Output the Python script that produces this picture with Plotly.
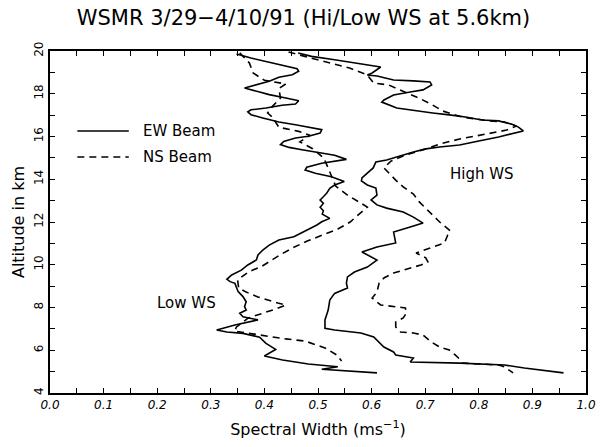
import plotly.graph_objects as go

# ---- data (spectral width in m/s, altitude in km) ----
low_ew_width = [0.348,0.375,0.415,0.440,0.461,0.464,0.452,0.427,0.409,0.363,0.409,0.440,0.464,0.458,0.433,0.403,0.375,0.369,0.375,0.397,0.427,0.458,0.488,0.507,0.504,0.482,0.458,0.436,0.430,0.446,0.470,0.501,0.531,0.553,0.507,0.479,0.476,0.495,0.525,0.549,0.531,0.522,0.516,0.510,0.504,0.510,0.504,0.510,0.508,0.522,0.507,0.498,0.479,0.455,0.427,0.409,0.397,0.388,0.385,0.369,0.357,0.339,0.330,0.336,0.345,0.348,0.351,0.360,0.366,0.363,0.366,0.354,0.360,0.388,0.345,0.311,0.330,0.360,0.391,0.403,0.421,0.400,0.434,0.482,0.537,0.507,0.610]
low_ew_alt = [19.86,19.67,19.44,19.28,19.17,19.05,18.89,18.77,18.58,18.27,17.96,17.80,17.67,17.52,17.46,17.33,17.25,17.15,17.02,16.87,16.68,16.55,16.43,16.32,16.16,16.01,15.93,15.77,15.62,15.49,15.38,15.23,15.12,14.93,14.75,14.56,14.43,14.28,14.12,13.89,13.73,13.58,13.34,13.18,13.03,12.87,12.69,12.53,12.37,12.17,12.01,11.86,11.63,11.31,11.16,10.92,10.69,10.46,10.22,9.99,9.75,9.52,9.32,9.21,9.13,8.94,8.74,8.51,8.27,8.04,7.88,7.73,7.57,7.42,7.18,6.95,6.85,6.79,6.61,6.32,6.04,5.73,5.54,5.36,5.23,5.11,4.94]

low_ns_width = [0.354,0.372,0.379,0.400,0.440,0.427,0.430,0.415,0.406,0.415,0.427,0.464,0.485,0.466,0.490,0.511,0.522,0.533,0.555,0.581,0.592,0.579,0.560,0.537,0.509,0.480,0.452,0.429,0.396,0.370,0.350,0.352,0.366,0.388,0.425,0.440,0.421,0.396,0.370,0.348,0.344,0.366,0.403,0.440,0.476,0.513,0.535,0.544]
low_ns_alt = [19.91,19.44,18.97,18.63,18.46,18.24,17.80,17.41,17.10,16.90,16.43,16.24,16.06,15.75,15.43,14.99,14.34,13.68,13.26,12.89,12.70,12.42,12.00,11.67,11.39,11.11,10.78,10.46,9.94,9.66,9.29,8.91,8.72,8.49,8.21,8.12,7.93,7.74,7.51,7.09,6.90,6.81,6.67,6.53,6.43,6.11,5.78,5.50]

high_ew_width = [0.463,0.488,0.531,0.586,0.617,0.601,0.592,0.610,0.641,0.678,0.709,0.712,0.696,0.672,0.641,0.623,0.619,0.647,0.683,0.714,0.745,0.775,0.806,0.837,0.861,0.874,0.883,0.861,0.837,0.800,0.764,0.727,0.701,0.678,0.654,0.628,0.608,0.603,0.592,0.582,0.581,0.592,0.608,0.610,0.599,0.610,0.628,0.659,0.678,0.696,0.672,0.641,0.645,0.610,0.582,0.610,0.592,0.568,0.555,0.553,0.555,0.531,0.522,0.519,0.513,0.513,0.531,0.580,0.604,0.623,0.641,0.645,0.678,0.672,0.764,0.848,0.885,0.958]
high_ew_alt = [19.91,19.75,19.59,19.36,19.25,18.97,18.88,18.83,18.64,18.60,18.55,18.41,18.18,18.08,17.94,17.71,17.61,17.33,17.19,17.10,17.01,16.91,16.77,16.73,16.58,16.44,16.26,16.12,15.98,15.79,15.60,15.51,15.42,15.27,15.09,14.90,14.81,14.53,14.29,14.06,13.92,13.73,13.59,13.26,13.03,12.80,12.65,12.47,12.23,11.95,11.77,11.53,11.02,10.83,10.60,10.22,9.89,9.66,9.43,9.14,8.91,8.66,8.35,7.88,7.42,7.03,6.95,6.81,6.62,6.15,5.92,5.78,5.64,5.45,5.40,5.31,5.17,4.94]

high_ns_width = [0.445,0.467,0.513,0.559,0.592,0.604,0.632,0.659,0.692,0.714,0.733,0.769,0.819,0.848,0.870,0.852,0.811,0.764,0.727,0.701,0.663,0.636,0.623,0.632,0.645,0.659,0.678,0.689,0.714,0.727,0.747,0.742,0.736,0.714,0.696,0.683,0.701,0.705,0.692,0.678,0.659,0.641,0.623,0.614,0.610,0.601,0.617,0.647,0.663,0.665,0.659,0.645,0.645,0.654,0.678,0.696,0.711,0.727,0.745,0.756,0.766,0.769,0.837,0.848,0.864]
high_ns_alt = [19.95,19.81,19.49,19.20,18.88,18.50,18.41,18.13,17.75,17.47,17.19,16.91,16.73,16.68,16.49,16.30,16.12,15.88,15.65,15.42,15.13,14.85,14.53,14.29,13.96,13.64,13.31,12.94,12.33,12.00,11.58,11.39,11.02,10.83,10.69,10.55,10.32,10.13,9.99,9.89,9.75,9.61,9.38,9.14,8.72,8.44,8.12,8.02,7.98,7.74,7.51,7.32,7.09,6.85,6.81,6.71,6.39,6.15,6.01,5.78,5.54,5.40,5.31,5.22,4.94]

x_ticks = [0.0, 0.1, 0.2, 0.3, 0.4, 0.5, 0.6, 0.7, 0.8, 0.9, 1.0]
y_ticks = [4, 6, 8, 10, 12, 14, 16, 18, 20]

FONT = "DejaVu Sans"
solid = dict(color="black", width=1.6)
dashed = dict(color="black", width=1.6, dash="7px,5px")

fig = go.Figure()
fig.add_trace(go.Scatter(x=low_ew_width, y=low_ew_alt, mode="lines", line=solid, showlegend=False))
fig.add_trace(go.Scatter(x=low_ns_width, y=low_ns_alt, mode="lines", line=dashed, showlegend=False))
fig.add_trace(go.Scatter(x=high_ew_width, y=high_ew_alt, mode="lines", line=solid, showlegend=False))
fig.add_trace(go.Scatter(x=high_ns_width, y=high_ns_alt, mode="lines", line=dashed, showlegend=False))

W, H = 607, 447
fig.update_layout(
    width=W, height=H,
    margin=dict(l=50, r=11, t=51, b=54),
    paper_bgcolor="white", plot_bgcolor="white",
    font=dict(family=FONT, color="black"),
    title=dict(text="WSMR 3/29\u22124/10/91 (Hi/Low WS at 5.6km)",
               x=0.5, xanchor="center", xref="container",
               y=1 - 10 / H, yanchor="top", yref="container",
               font=dict(size=21, family=FONT, color="black")),
)

fig.update_xaxes(
    range=[0, 1], tickvals=x_ticks, ticktext=[f"{v:.1f}" for v in x_ticks],
    ticks="inside", ticklen=5, tickwidth=1.2, tickcolor="black",
    minor=dict(dtick=0.05, tick0=0, ticks="inside", ticklen=5, tickwidth=1.2, tickcolor="black"),
    showline=True, linecolor="black", linewidth=2, mirror="ticks",
    showgrid=False, zeroline=False,
    tickfont=dict(size=12, family=FONT, style="italic"),
    title=dict(text="Spectral Width (ms<sup>\u22121</sup>)", font=dict(size=16, family=FONT), standoff=12),
)
fig.update_yaxes(
    range=[4, 20], tickvals=y_ticks, ticktext=[str(v) for v in y_ticks],
    ticks="inside", ticklen=5, tickwidth=1.2, tickcolor="black",
    minor=dict(dtick=1, tick0=4, ticks="inside", ticklen=5, tickwidth=1.2, tickcolor="black"),
    showline=True, linecolor="black", linewidth=2, mirror="ticks",
    showgrid=False, zeroline=False, tickangle=-90,
    tickfont=dict(size=12, family=FONT),
    title=dict(text="Altitude in km", font=dict(size=16, family=FONT), standoff=4),
)

# custom legend (paper coordinates)
leg_x0, leg_x1, leg_tx = 0.051, 0.147, 0.170
leg_y = [0.766, 0.690]
fig.add_shape(type="line", xref="paper", yref="paper", x0=leg_x0, x1=leg_x1, y0=leg_y[0], y1=leg_y[0], line=solid)
fig.add_shape(type="line", xref="paper", yref="paper", x0=leg_x0, x1=leg_x1, y0=leg_y[1], y1=leg_y[1], line=dashed)
fig.add_annotation(text="EW Beam", xref="paper", yref="paper", x=leg_tx, y=leg_y[0],
                   xanchor="left", yanchor="middle", showarrow=False, font=dict(size=15, family=FONT))
fig.add_annotation(text="NS Beam", xref="paper", yref="paper", x=leg_tx, y=leg_y[1],
                   xanchor="left", yanchor="middle", showarrow=False, font=dict(size=15, family=FONT))
fig.add_annotation(text="Low WS", xref="paper", yref="paper", x=0.255, y=0.263,
                   xanchor="center", yanchor="middle", showarrow=False, font=dict(size=15, family=FONT))
fig.add_annotation(text="High WS", xref="paper", yref="paper", x=0.806, y=0.640,
                   xanchor="center", yanchor="middle", showarrow=False, font=dict(size=15, family=FONT))

# remove the browser's default 8px body margin so the figure sits at the page origin
fig.write_html("out.html", config={"displayModeBar": False},
               post_script="document.body.style.margin='0px';")
